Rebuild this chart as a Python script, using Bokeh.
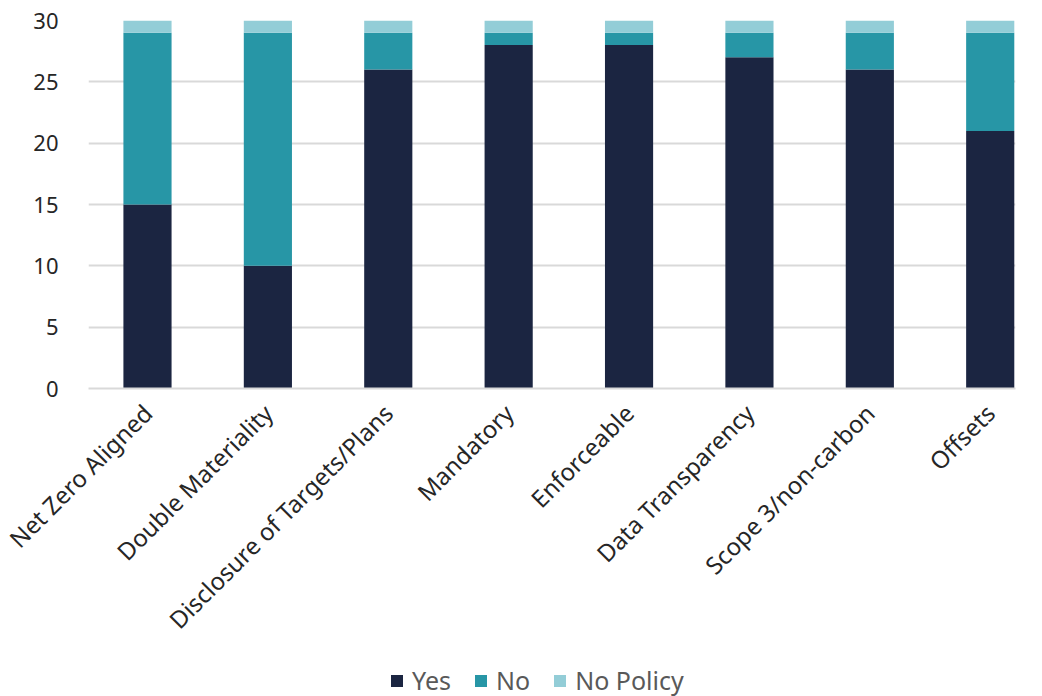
import math
from bokeh.plotting import figure
from bokeh.layouts import column
from bokeh.models import ColumnDataSource, Legend, LegendItem, FixedTicker
from bokeh.embed import file_html
from bokeh.resources import INLINE

categories = ["Net Zero Aligned", "Double Materiality", "Disclosure of Targets/Plans",
              "Mandatory", "Enforceable", "Data Transparency", "Scope 3/non-carbon", "Offsets"]
yes = [15, 10, 26, 28, 28, 27, 26, 21]
no = [14, 19, 3, 1, 1, 2, 3, 8]
no_policy = [1, 1, 1, 1, 1, 1, 1, 1]
series = ["Yes", "No", "No Policy"]
colors = ["#1B2541", "#2796A6", "#93CDD7"]
y_ticks = [0, 5, 10, 15, 20, 25, 30]

FONT = "Noto Sans"
xs = list(range(len(categories)))
src = ColumnDataSource(dict(x=xs, Yes=yes, No=no, **{"No Policy": no_policy}))

p = figure(width=1042, height=654, output_backend="svg", toolbar_location=None,
           x_range=(-0.49, 7.21), y_range=(0, 30),
           min_border_left=88, min_border_right=27, min_border_top=20, min_border_bottom=266)

rs = p.vbar_stack(series, x="x", width=0.4, source=src, color=colors, line_color=None)

p.xaxis.ticker = FixedTicker(ticks=xs)
p.xaxis.major_label_overrides = {i: c for i, c in enumerate(categories)}
p.xaxis.major_label_orientation = math.pi / 4
p.yaxis.ticker = FixedTicker(ticks=y_ticks)

for ax in (p.xaxis, p.yaxis):
    ax.major_label_text_font = FONT
    ax.major_label_text_color = "#262626"
    ax.major_tick_line_color = None
    ax.minor_tick_line_color = None
p.xaxis.major_label_text_font_size = "24px"
p.yaxis.major_label_text_font_size = "22px"
p.yaxis.axis_line_color = None
p.xaxis.axis_line_color = "#D9D9D9"
p.xaxis.axis_line_width = 2
p.yaxis.major_label_standoff = 24
p.xaxis.major_label_standoff = 14

p.xgrid.grid_line_color = None
p.ygrid.grid_line_color = "#D9D9D9"
p.ygrid.grid_line_width = 2
p.outline_line_color = None

# legend strip below the chart (same vbar glyphs, drawn outside the visible range)
lf = figure(width=1042, height=42, output_backend="svg", toolbar_location=None,
            x_range=(0, 1), y_range=(0, 1), min_border=0)
lf.axis.visible = False
lf.grid.grid_line_color = None
lf.outline_line_color = None
dummy = [lf.vbar(x=[-5], top=[-5], bottom=[-6], width=0.1, color=c, line_color=None)
         for c in colors]

legend = Legend(items=[LegendItem(label=s, renderers=[r]) for s, r in zip(series, dummy)],
                orientation="horizontal", location=(301, -1))
legend.label_text_font = FONT
legend.label_text_font_size = "25px"
legend.label_text_color = "#595959"
legend.glyph_width = 15
legend.glyph_height = 15
legend.spacing = 22
legend.label_standoff = 8
legend.border_line_color = None
legend.background_fill_alpha = 0
legend.margin = 0
legend.padding = 2
lf.add_layout(legend, "center")

layout = column(p, lf, spacing=0)
open("out.html", "w").write(file_html(layout, INLINE))
